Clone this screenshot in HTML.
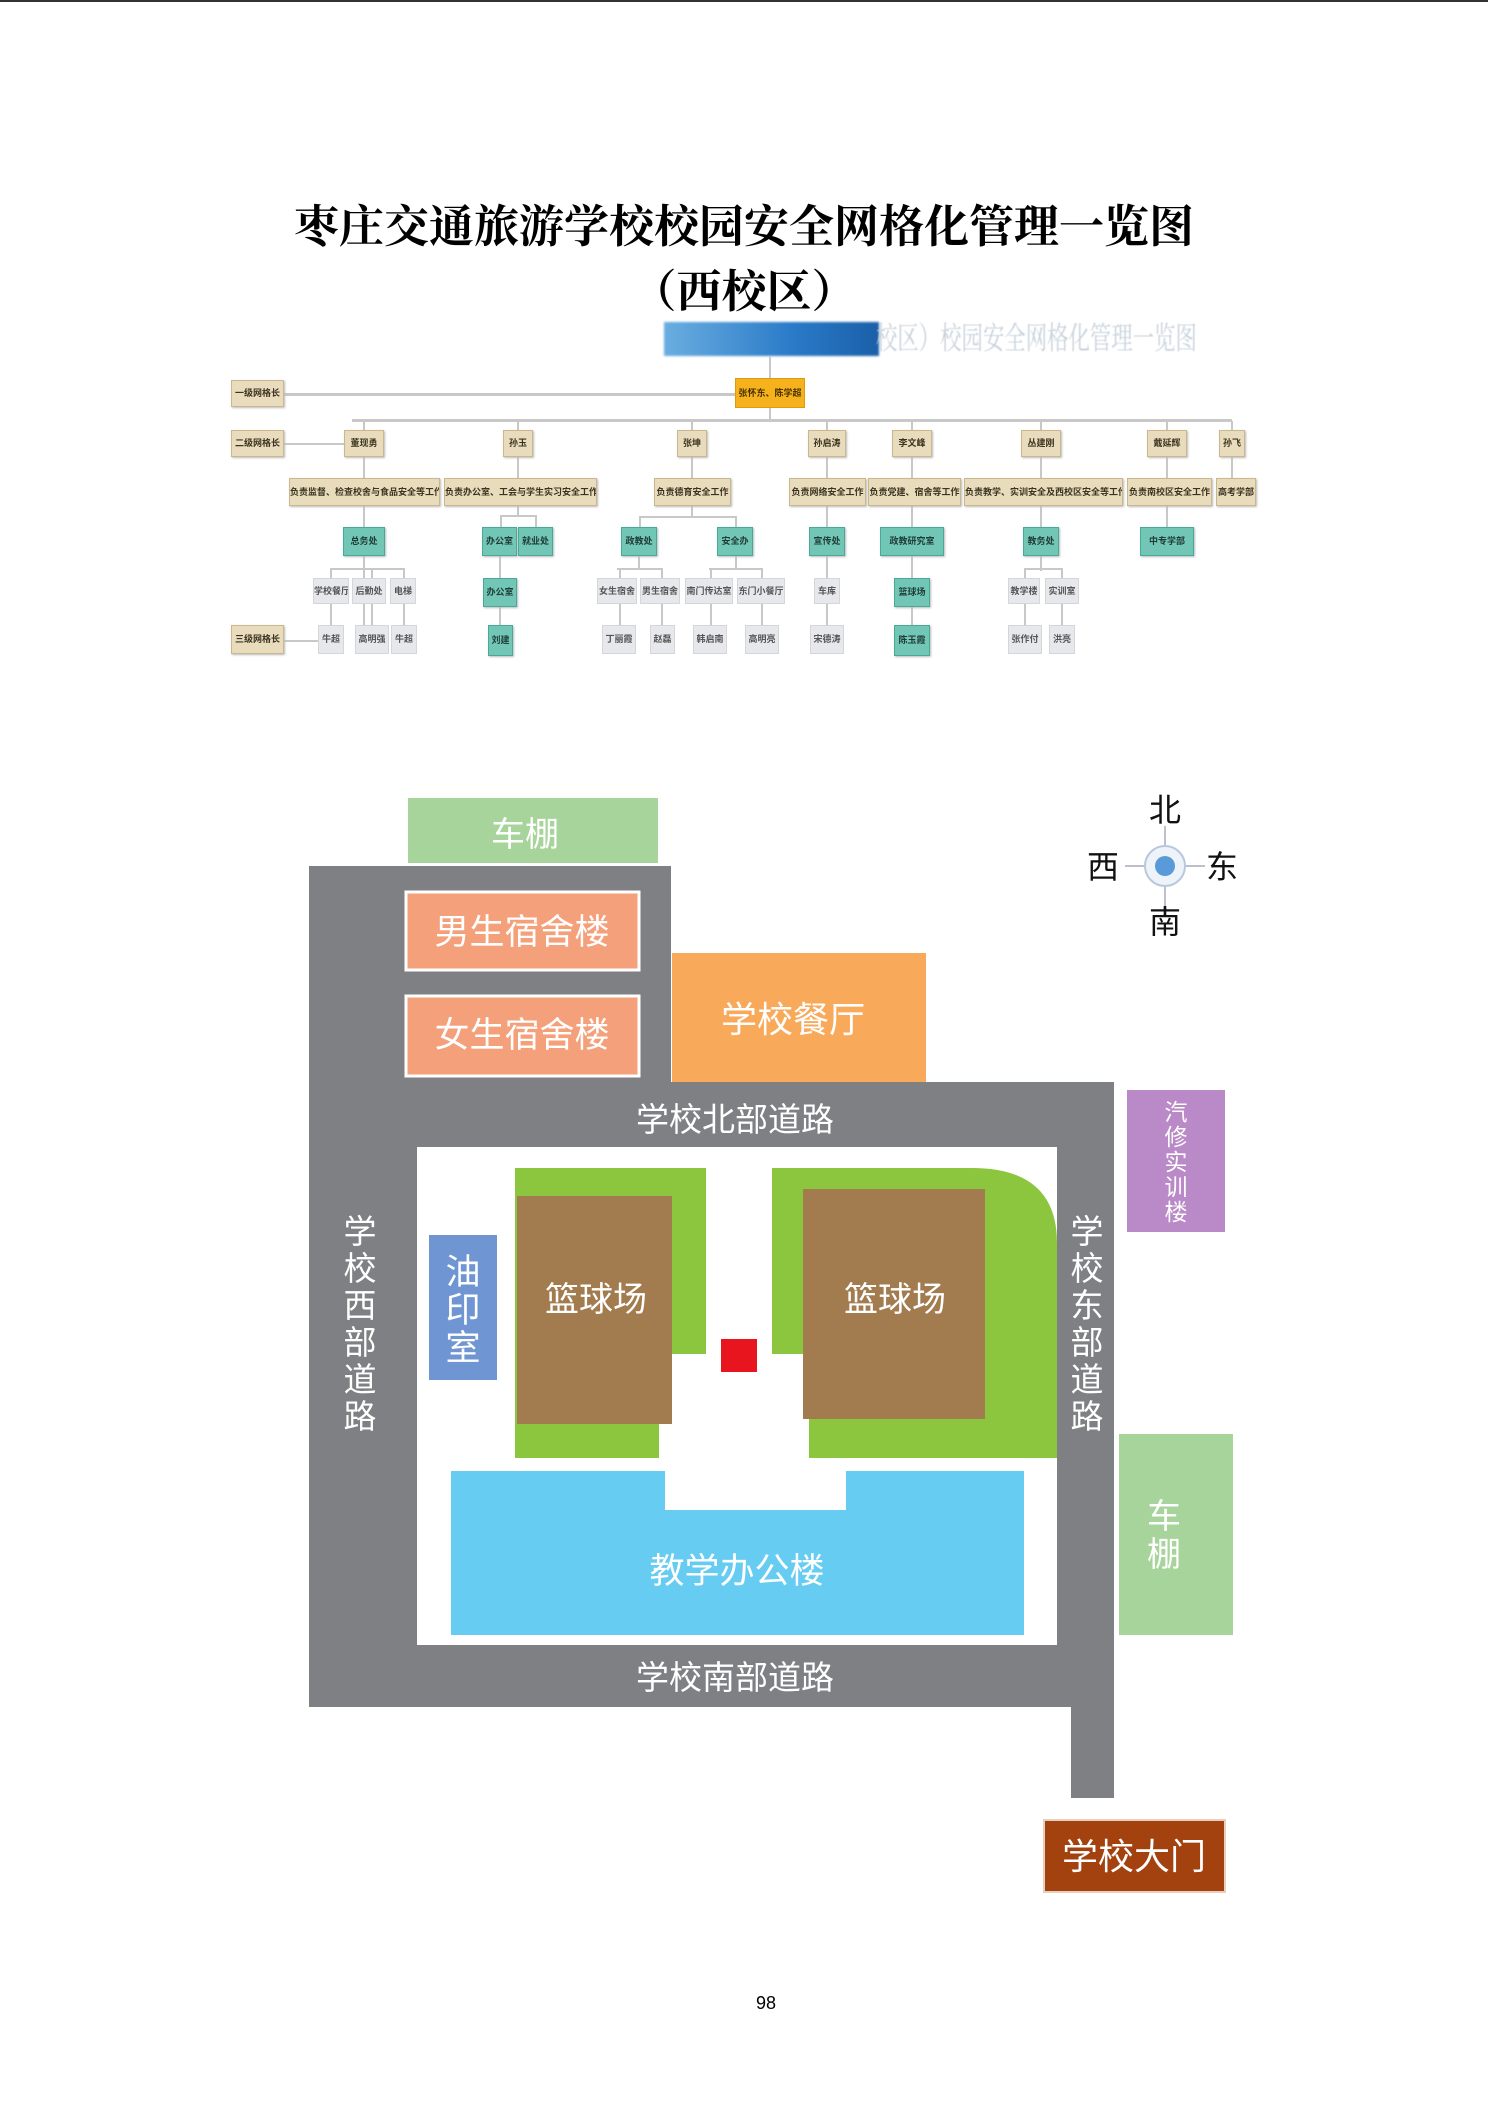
<!DOCTYPE html>
<html><head><meta charset="utf-8">
<style>
html,body{margin:0;padding:0;background:#fff}
body{width:1488px;height:2104px;position:relative;overflow:hidden;font-family:"Liberation Sans","Noto Sans CJK SC",sans-serif}
.t{position:absolute;left:0;width:1488px;text-align:center;font-family:"Liberation Serif","Noto Serif CJK SC",serif;font-weight:bold;color:#000}
.b{position:absolute;font-size:9px;text-align:center;white-space:nowrap;overflow:hidden;box-sizing:border-box;color:#3a3320;font-weight:bold}
.tan{background:#e9dcbc;border:1px solid #c9b88e;box-shadow:1px 1px 2px #bbb}
.teal{background:#72c6b6;border:1px solid #4aa898;color:#1f3b36;box-shadow:1px 1px 2px #bbb}
.gr{background:#e6e8ec;border:1px solid #d4d6da;color:#555}
.org{background:#f6b21c;border:1px solid #e09a10;color:#4a3200}
.l{position:absolute;background:#c8c8c8}
</style></head><body>
<div style="position:absolute;left:0;top:0;width:1488px;height:2px;background:#333"></div>
<div class="t" style="top:190px;font-size:45px;">枣庄交通旅游学校校园安全网格化管理一览图</div>
<div class="t" style="top:255px;font-size:45px;">（西校区）</div>

<!-- org header -->
<div style="position:absolute;left:664px;top:322px;width:215px;height:34px;background:linear-gradient(90deg,#6aaee0,#2a7ac8 60%,#1a5fa8);filter:blur(1px)"></div>
<div style="position:absolute;left:876px;top:322px;font-size:31px;line-height:34px;color:#c8d2dc;font-family:'Liberation Serif','Noto Serif CJK SC',serif;white-space:nowrap;filter:blur(0.6px);transform:scaleX(0.69);transform-origin:0 0">校区）校园安全网格化管理一览图</div>

<!-- connectors -->
<div class="l" style="left:284px;top:393px;width:451px;height:3px"></div>
<div class="l" style="left:284px;top:443px;width:60px;height:2px"></div>
<div class="l" style="left:284px;top:640px;width:40px;height:2px"></div>
<div class="l" style="left:769px;top:356px;width:2px;height:64px"></div>
<div class="l" style="left:352px;top:419px;width:880px;height:3px"></div>
<div class="l" style="left:363px;top:421px;width:2px;height:205px"></div>
<div class="l" style="left:517px;top:421px;width:2px;height:95px"></div>
<div class="l" style="left:499px;top:556px;width:2px;height:70px"></div>
<div class="l" style="left:691px;top:421px;width:2px;height:95px"></div>
<div class="l" style="left:826px;top:421px;width:2px;height:210px"></div>
<div class="l" style="left:911px;top:421px;width:2px;height:210px"></div>
<div class="l" style="left:1040px;top:421px;width:2px;height:150px"></div>
<div class="l" style="left:1166px;top:421px;width:2px;height:110px"></div>
<div class="l" style="left:1231px;top:421px;width:2px;height:60px"></div>
<div class="l" style="left:330px;top:568px;width:74px;height:2px"></div>
<div class="l" style="left:330px;top:568px;width:2px;height:70px"></div>
<div class="l" style="left:371px;top:568px;width:2px;height:70px"></div>
<div class="l" style="left:403px;top:568px;width:2px;height:70px"></div>
<div class="l" style="left:500px;top:515px;width:36px;height:2px"></div>
<div class="l" style="left:500px;top:515px;width:2px;height:12px"></div>
<div class="l" style="left:535px;top:515px;width:2px;height:12px"></div>
<div class="l" style="left:639px;top:516px;width:97px;height:2px"></div>
<div class="l" style="left:639px;top:516px;width:2px;height:12px"></div>
<div class="l" style="left:735px;top:516px;width:2px;height:12px"></div>
<div class="l" style="left:617px;top:568px;width:45px;height:2px"></div>
<div class="l" style="left:709px;top:568px;width:53px;height:2px"></div>
<div class="l" style="left:638px;top:556px;width:2px;height:12px"></div>
<div class="l" style="left:735px;top:556px;width:2px;height:12px"></div>
<div class="l" style="left:619px;top:568px;width:2px;height:70px"></div>
<div class="l" style="left:661px;top:568px;width:2px;height:70px"></div>
<div class="l" style="left:710px;top:568px;width:2px;height:70px"></div>
<div class="l" style="left:761px;top:568px;width:2px;height:70px"></div>
<div class="l" style="left:1024px;top:568px;width:38px;height:2px"></div>
<div class="l" style="left:1024px;top:568px;width:2px;height:70px"></div>
<div class="l" style="left:1061px;top:568px;width:2px;height:70px"></div>

<!-- left labels -->
<div class="b tan" style="left:231px;top:380px;width:53px;height:27px;line-height:25px">一级网格长</div>
<div class="b tan" style="left:231px;top:430px;width:53px;height:27px;line-height:25px">二级网格长</div>
<div class="b tan" style="left:231px;top:625px;width:53px;height:29px;line-height:27px">三级网格长</div>

<div class="b org" style="left:735px;top:378px;width:70px;height:30px;line-height:28px">张怀东、陈学超</div>

<!-- level 2 -->
<div class="b tan" style="left:344px;top:430px;width:40px;height:27px;line-height:25px">董现勇</div>
<div class="b tan" style="left:503px;top:430px;width:30px;height:27px;line-height:25px">孙玉</div>
<div class="b tan" style="left:677px;top:430px;width:30px;height:27px;line-height:25px">张坤</div>
<div class="b tan" style="left:808px;top:430px;width:38px;height:27px;line-height:25px">孙启涛</div>
<div class="b tan" style="left:892px;top:430px;width:40px;height:27px;line-height:25px">李文峰</div>
<div class="b tan" style="left:1021px;top:430px;width:40px;height:27px;line-height:25px">丛建刚</div>
<div class="b tan" style="left:1147px;top:430px;width:40px;height:27px;line-height:25px">戴延辉</div>
<div class="b tan" style="left:1219px;top:430px;width:26px;height:27px;line-height:25px">孙飞</div>

<!-- responsibilities -->
<div class="b tan" style="left:289px;top:478px;width:151px;height:28px;line-height:26px">负责监督、检查校舍与食品安全等工作</div>
<div class="b tan" style="left:444px;top:478px;width:153px;height:28px;line-height:26px">负责办公室、工会与学生实习安全工作</div>
<div class="b tan" style="left:654px;top:478px;width:77px;height:28px;line-height:26px">负责德育安全工作</div>
<div class="b tan" style="left:789px;top:478px;width:77px;height:28px;line-height:26px">负责网络安全工作</div>
<div class="b tan" style="left:868px;top:478px;width:93px;height:28px;line-height:26px">负责党建、宿舍等工作</div>
<div class="b tan" style="left:964px;top:478px;width:159px;height:28px;line-height:26px">负责教学、实训安全及西校区安全等工作</div>
<div class="b tan" style="left:1127px;top:478px;width:85px;height:28px;line-height:26px">负责南校区安全工作</div>
<div class="b tan" style="left:1216px;top:478px;width:40px;height:28px;line-height:26px">高考学部</div>

<!-- teal -->
<div class="b teal" style="left:343px;top:527px;width:42px;height:29px;line-height:27px">总务处</div>
<div class="b teal" style="left:482px;top:527px;width:35px;height:29px;line-height:27px">办公室</div>
<div class="b teal" style="left:518px;top:527px;width:35px;height:29px;line-height:27px">就业处</div>
<div class="b teal" style="left:621px;top:527px;width:36px;height:29px;line-height:27px">政教处</div>
<div class="b teal" style="left:717px;top:527px;width:36px;height:29px;line-height:27px">安全办</div>
<div class="b teal" style="left:809px;top:527px;width:36px;height:29px;line-height:27px">宣传处</div>
<div class="b teal" style="left:880px;top:527px;width:64px;height:29px;line-height:27px">政教研究室</div>
<div class="b teal" style="left:1023px;top:527px;width:36px;height:29px;line-height:27px">教务处</div>
<div class="b teal" style="left:1140px;top:527px;width:54px;height:29px;line-height:27px">中专学部</div>

<!-- grey row1 -->
<div class="b gr" style="left:313px;top:578px;width:36px;height:26px;line-height:24px">学校餐厅</div>
<div class="b gr" style="left:352px;top:578px;width:34px;height:26px;line-height:24px">后勤处</div>
<div class="b gr" style="left:390px;top:578px;width:26px;height:26px;line-height:24px">电梯</div>
<div class="b teal" style="left:483px;top:578px;width:34px;height:29px;line-height:27px">办公室</div>
<div class="b gr" style="left:597px;top:578px;width:40px;height:26px;line-height:24px">女生宿舍</div>
<div class="b gr" style="left:640px;top:578px;width:40px;height:26px;line-height:24px">男生宿舍</div>
<div class="b gr" style="left:685px;top:578px;width:48px;height:26px;line-height:24px">南门传达室</div>
<div class="b gr" style="left:737px;top:578px;width:48px;height:26px;line-height:24px">东门小餐厅</div>
<div class="b gr" style="left:814px;top:578px;width:26px;height:26px;line-height:24px">车库</div>
<div class="b teal" style="left:894px;top:578px;width:36px;height:29px;line-height:27px">篮球场</div>
<div class="b gr" style="left:1008px;top:578px;width:32px;height:26px;line-height:24px">教学楼</div>
<div class="b gr" style="left:1045px;top:578px;width:34px;height:26px;line-height:24px">实训室</div>

<!-- grey row2 -->
<div class="b gr" style="left:318px;top:625px;width:26px;height:29px;line-height:27px">牛超</div>
<div class="b gr" style="left:355px;top:625px;width:34px;height:29px;line-height:27px">高明强</div>
<div class="b gr" style="left:391px;top:625px;width:26px;height:29px;line-height:27px">牛超</div>
<div class="b teal" style="left:488px;top:625px;width:25px;height:31px;line-height:29px">刘建</div>
<div class="b gr" style="left:602px;top:625px;width:34px;height:29px;line-height:27px">丁丽霞</div>
<div class="b gr" style="left:650px;top:625px;width:25px;height:29px;line-height:27px">赵磊</div>
<div class="b gr" style="left:693px;top:625px;width:34px;height:29px;line-height:27px">韩启南</div>
<div class="b gr" style="left:745px;top:625px;width:34px;height:29px;line-height:27px">高明亮</div>
<div class="b gr" style="left:810px;top:625px;width:34px;height:29px;line-height:27px">宋德涛</div>
<div class="b teal" style="left:894px;top:625px;width:36px;height:31px;line-height:29px">陈玉霞</div>
<div class="b gr" style="left:1008px;top:625px;width:34px;height:29px;line-height:27px">张作付</div>
<div class="b gr" style="left:1049px;top:625px;width:26px;height:29px;line-height:27px">洪亮</div>

<!-- map -->
<svg style="position:absolute;left:0;top:0" width="1488" height="2104" xmlns="http://www.w3.org/2000/svg">
<rect x="408" y="798" width="250" height="65" fill="#a6d49a"/>
<polygon points="309,866 671,866 671,1082 1114,1082 1114,1798 1071,1798 1071,1707 309,1707" fill="#7f8083"/>
<rect x="417" y="1147" width="640" height="498" fill="#fff"/>
<rect x="406" y="892" width="233" height="78" fill="#f4a07a" stroke="#fff" stroke-width="3"/>
<rect x="406" y="996" width="233" height="80" fill="#f4a07a" stroke="#fff" stroke-width="3"/>
<rect x="672" y="953" width="254" height="129" fill="#f9a95a"/>
<rect x="1127" y="1090" width="98" height="142" fill="#b98ac7"/>
<rect x="429" y="1235" width="68" height="145" fill="#6f95d2"/>
<rect x="515" y="1168" width="191" height="186" fill="#8cc63f"/>
<rect x="515" y="1168" width="144" height="290" fill="#8cc63f"/>
<rect x="517" y="1196" width="155" height="228" fill="#a27b4f"/>
<path d="M772,1168 H972 Q1057,1168 1057,1243 V1458 H809 V1354 H772 Z" fill="#8cc63f"/>
<rect x="803" y="1189" width="182" height="230" fill="#a27b4f"/>
<rect x="721" y="1339" width="36" height="33" fill="#e8141e"/>
<polygon points="451,1471 665,1471 665,1510 846,1510 846,1471 1024,1471 1024,1635 451,1635" fill="#66ccf2"/>
<rect x="1119" y="1434" width="114" height="201" fill="#a6d49a"/>
<rect x="1044" y="1820" width="181" height="72" fill="#a3410f" stroke="#e8cfc0" stroke-width="2"/>
<line x1="1125" y1="866" x2="1205" y2="866" stroke="#aab" stroke-width="1.5"/>
<line x1="1165" y1="826" x2="1165" y2="906" stroke="#aab" stroke-width="1.5"/>
<circle cx="1165" cy="866" r="20" fill="#eef3fa" stroke="#b8c8dc" stroke-width="2"/>
<circle cx="1165" cy="866" r="10" fill="#5b9ad8"/>
<g font-family="Liberation Sans, Noto Sans CJK SC, sans-serif" fill="#fff" text-anchor="middle">
<text x="525" y="846" font-size="34">车棚</text>
<text x="522" y="944" font-size="35">男生宿舍楼</text>
<text x="522" y="1047" font-size="35">女生宿舍楼</text>
<text x="793" y="1032" font-size="36">学校餐厅</text>
<text x="735" y="1131" font-size="33">学校北部道路</text>
<text x="735" y="1689" font-size="33">学校南部道路</text>
<text x="737" y="1583" font-size="35">教学办公楼</text>
<text x="596" y="1311" font-size="34">篮球场</text>
<text x="895" y="1311" font-size="34">篮球场</text>
<text x="1134" y="1869" font-size="36">学校大门</text>
<g font-size="33"><text x="360" y="1243">学</text><text x="360" y="1280">校</text><text x="360" y="1317">西</text><text x="360" y="1354">部</text><text x="360" y="1391">道</text><text x="360" y="1428">路</text></g>
<g font-size="33"><text x="1087" y="1243">学</text><text x="1087" y="1280">校</text><text x="1087" y="1317">东</text><text x="1087" y="1354">部</text><text x="1087" y="1391">道</text><text x="1087" y="1428">路</text></g>
<g font-size="35"><text x="463" y="1284">油</text><text x="463" y="1322">印</text><text x="463" y="1360">室</text></g>
<g font-size="23"><text x="1176" y="1120">汽</text><text x="1176" y="1145">修</text><text x="1176" y="1170">实</text><text x="1176" y="1195">训</text><text x="1176" y="1220">楼</text></g>
<g font-size="34"><text x="1164" y="1528">车</text><text x="1164" y="1566">棚</text></g>
</g>
<g font-family="Liberation Sans, Noto Sans CJK SC, sans-serif" fill="#111" text-anchor="middle" font-size="32">
<text x="1165" y="821">北</text><text x="1103" y="878">西</text><text x="1222" y="878">东</text><text x="1165" y="933">南</text>
</g>
<text x="766" y="2009" font-family="Liberation Sans, sans-serif" font-size="18" text-anchor="middle" fill="#000">98</text>
</svg>
</body></html>
